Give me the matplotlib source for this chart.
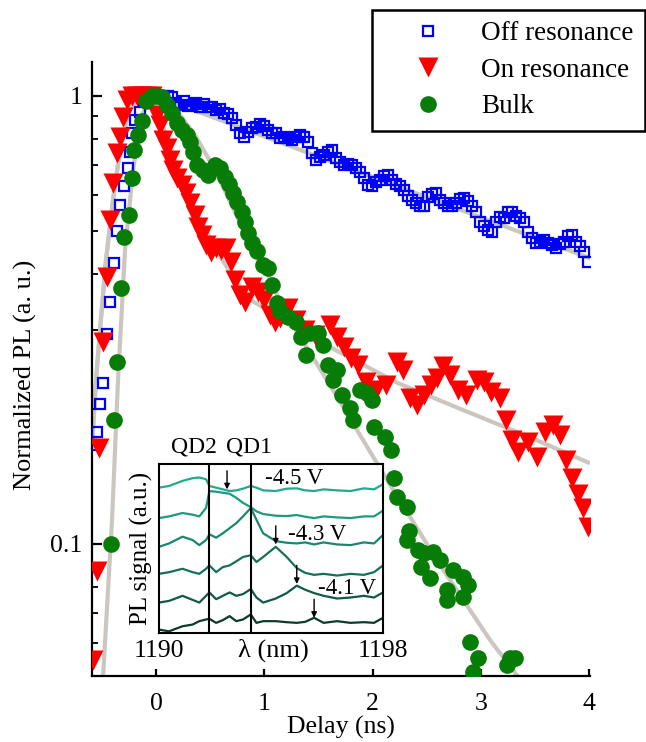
import matplotlib
matplotlib.use("Agg")
import matplotlib.pyplot as plt
from matplotlib.ticker import FixedLocator, FixedFormatter, LogLocator, NullFormatter

plt.rcParams['font.family'] = ['Liberation Serif', 'DejaVu Serif']

# ---------------- main data (delay in ns, normalized PL) ----------------
off_t = [-0.591, -0.545, -0.517, -0.489, -0.452, -0.425, -0.388, -0.360, -0.332, -0.295,
         -0.259, -0.240, -0.222, -0.194,
         -0.148, -0.111, -0.074, -0.037, 0.000, 0.037, 0.074, 0.111, 0.148, 0.185,
         0.222, 0.259, 0.295, 0.332, 0.369, 0.406, 0.443, 0.480, 0.517, 0.554,
         0.591, 0.628, 0.665, 0.702, 0.739, 0.776, 0.813, 0.849, 0.886, 0.923,
         0.960, 0.997, 1.034, 1.071, 1.108, 1.145, 1.182, 1.219, 1.256, 1.293,
         1.330, 1.367, 1.404, 1.440, 1.477, 1.514, 1.551, 1.588, 1.625, 1.662,
         1.699, 1.736, 1.773, 1.810, 1.847, 1.884, 1.921, 1.958, 1.994, 2.031,
         2.068, 2.105, 2.142, 2.179, 2.216, 2.253, 2.290, 2.327, 2.364, 2.401,
         2.438, 2.475, 2.512, 2.548, 2.585, 2.622, 2.659, 2.696, 2.733, 2.770,
         2.807, 2.844, 2.881, 2.918, 2.955, 2.992, 3.029, 3.066, 3.102, 3.139,
         3.176, 3.213, 3.250, 3.287, 3.324, 3.361, 3.398, 3.435, 3.472, 3.509,
         3.546, 3.583, 3.620, 3.657, 3.693, 3.730, 3.767, 3.804, 3.841, 3.878,
         3.915, 3.952, 3.989]
off_pl = [0.166, 0.178, 0.205, 0.229, 0.294, 0.347, 0.424, 0.500, 0.571, 0.630,
          0.691, 0.750, 0.827, 0.884,
          0.921, 0.980, 0.995, 1.000, 1.000, 0.990, 1.000, 1.000, 0.995, 0.965,
          0.955, 0.975, 0.950, 0.955, 0.965, 0.945, 0.960, 0.945, 0.945, 0.930,
          0.935, 0.916, 0.912, 0.893, 0.862, 0.827, 0.810, 0.831, 0.848, 0.853,
          0.866, 0.857, 0.839, 0.827, 0.827, 0.806, 0.810, 0.806, 0.798, 0.810,
          0.818, 0.810, 0.790, 0.746, 0.720, 0.731, 0.738, 0.750, 0.758, 0.727,
          0.712, 0.701, 0.705, 0.701, 0.691, 0.677, 0.656, 0.633, 0.630, 0.642,
          0.649, 0.663, 0.666, 0.649, 0.636, 0.630, 0.617, 0.598, 0.586, 0.577,
          0.568, 0.568, 0.595, 0.604, 0.607, 0.586, 0.577, 0.568, 0.568, 0.577,
          0.589, 0.592, 0.583, 0.568, 0.551, 0.523, 0.513, 0.502, 0.497, 0.523,
          0.537, 0.534, 0.551, 0.551, 0.540, 0.534, 0.523, 0.497, 0.482, 0.470,
          0.472, 0.477, 0.470, 0.465, 0.458, 0.467, 0.472, 0.487, 0.490, 0.472,
          0.463, 0.449, 0.426]

on_t = [-0.582, -0.545, -0.526, -0.489, -0.452, -0.425, -0.397, -0.360, -0.332, -0.305,
        -0.268, -0.222, -0.175, -0.129, -0.083, -0.037,
        0.009, 0.037, 0.065, 0.102, 0.129, 0.157, 0.194, 0.240, 0.277, 0.314,
        0.360, 0.388, 0.425, 0.462, 0.508, 0.554, 0.600, 0.646, 0.693, 0.729,
        0.776, 0.822, 0.886, 0.942, 0.997, 1.053, 1.099, 1.145, 1.219, 1.293,
        1.376, 1.468, 1.607, 1.671, 1.736, 1.801, 1.865, 1.939, 2.031, 2.124,
        2.225, 2.281, 2.345, 2.410, 2.475, 2.539, 2.595, 2.650, 2.715, 2.789,
        2.863, 2.964, 3.029, 3.093, 3.176, 3.232, 3.287, 3.343, 3.435, 3.518,
        3.592, 3.666, 3.730, 3.786, 3.841, 3.897, 3.943, 3.989]
on_pl = [0.055, 0.087, 0.164, 0.282, 0.394, 0.529, 0.639, 0.746, 0.810, 0.898,
         0.980, 1.000, 1.000, 1.000, 1.000, 1.000,
         0.907, 0.862, 0.798, 0.766, 0.720, 0.684, 0.656, 0.633, 0.607, 0.577,
         0.542, 0.510, 0.490, 0.465, 0.448, 0.458, 0.453, 0.458, 0.426, 0.388,
         0.360, 0.347, 0.375, 0.365, 0.350, 0.324, 0.313, 0.319, 0.336, 0.316,
         0.300, 0.293, 0.308, 0.290, 0.275, 0.260, 0.251, 0.230, 0.221, 0.226,
         0.255, 0.245, 0.212, 0.204, 0.215, 0.226, 0.235, 0.250, 0.238, 0.221,
         0.215, 0.232, 0.230, 0.218, 0.212, 0.189, 0.171, 0.160, 0.169, 0.156,
         0.178, 0.184, 0.175, 0.154, 0.140, 0.129, 0.120, 0.109]

bulk_t = [-0.416, -0.388, -0.360, -0.323, -0.295, -0.249, -0.222, -0.203, -0.166, -0.129,
          -0.092, -0.037, 0.009, 0.055, 0.102, 0.148, 0.194, 0.240, 0.286, 0.314,
          0.342, 0.379, 0.434, 0.480, 0.545, 0.591, 0.637, 0.674, 0.711, 0.748,
          0.794, 0.822, 0.849, 0.886, 0.933, 0.988, 1.034, 1.071, 1.117, 1.145,
          1.219, 1.293, 1.339, 1.385, 1.422, 1.496, 1.542, 1.588, 1.634, 1.671,
          1.717, 1.791, 1.819, 1.884, 1.948, 1.994, 2.013, 2.115, 2.170, 2.198,
          2.225, 2.318, 2.336, 2.318, 2.419, 2.475, 2.558, 2.622, 2.447, 2.530,
          2.687, 2.742, 2.835, 2.881, 2.835, 2.687, 2.899, 2.973, 2.927, 3.269,
          3.241, 3.315]
bulk_pl = [0.100, 0.189, 0.255, 0.373, 0.484, 0.542, 0.656, 0.758, 0.818, 0.879,
           0.975, 1.000, 1.000, 0.995, 0.955, 0.916, 0.870, 0.839, 0.818, 0.790,
           0.750, 0.701, 0.684, 0.666, 0.701, 0.691, 0.660, 0.636, 0.607, 0.580,
           0.551, 0.523, 0.495, 0.470, 0.451, 0.419, 0.413, 0.379, 0.345, 0.331,
           0.321, 0.313, 0.290, 0.264, 0.296, 0.296, 0.278, 0.251, 0.232, 0.245,
           0.215, 0.201, 0.189, 0.221, 0.217, 0.210, 0.182, 0.173, 0.162, 0.140,
           0.127, 0.121, 0.107, 0.102, 0.097, 0.0955, 0.096, 0.092, 0.0888, 0.0840,
           0.0789, 0.0875, 0.0844, 0.0810, 0.0762, 0.0750, 0.0604, 0.0556, 0.0518, 0.0556,
           0.0537, 0.0556]

# fitted curves
fit_off_t = [-0.591, -0.554, -0.517, -0.462, -0.397, -0.332, -0.259, -0.166, 0.0, 4.0]
fit_off_pl = [0.166, 0.232, 0.300, 0.430, 0.586, 0.758, 0.916, 0.995, 1.0, 0.435]
fit_on_t = [-0.591, -0.554, -0.517, -0.462, -0.397, -0.332, -0.259, -0.166, -0.055, 0.037,
            0.268, 0.572, 0.840, 1.302, 1.607, 2.225, 2.835, 3.453, 3.989]
fit_on_pl = [0.166, 0.232, 0.300, 0.430, 0.586, 0.758, 0.916, 0.995, 1.0, 0.893,
             0.617, 0.446, 0.354, 0.305, 0.275, 0.229, 0.199, 0.173, 0.152]
fit_bulk_t = [-0.489, -0.406, -0.351, -0.286, -0.212, -0.129, -0.055, 0.009, 0.175, 0.360,
              0.545, 0.794, 1.006, 1.163, 1.607, 2.133, 2.622, 3.084, 3.343]
fit_bulk_pl = [0.0505, 0.113, 0.232, 0.453, 0.684, 0.907, 0.990, 1.0, 0.940, 0.818,
               0.684, 0.510, 0.415, 0.338, 0.226, 0.139, 0.0897, 0.0610, 0.0505]

x_ticks = [0, 1, 2, 3, 4]
y_major = [0.1, 1]
y_major_labels = ['0.1', '1']
series_labels = ['Off resonance', 'On resonance', 'Bulk']

# ---------------- inset data (PL spectra) ----------------
lam = [1190.00, 1190.36, 1190.84, 1191.20, 1191.44, 1191.68, 1191.80, 1192.04, 1192.28, 1192.52,
       1192.76, 1193.00, 1193.28, 1193.48, 1193.72, 1194.17, 1194.56, 1194.92, 1195.22, 1195.54,
       1195.88, 1196.36, 1196.84, 1197.32, 1197.68, 1198.00]
spec_a = [4.30, 4.35, 4.50, 4.58, 4.60, 4.55, 4.35, 4.30, 4.25, 4.20, 4.22, 4.27, 4.35,
          4.30, 4.22, 4.20, 4.27, 4.28, 4.22, 4.20, 4.25, 4.22, 4.20, 4.28, 4.25, 4.40]
spec_b = [3.40, 3.45, 3.55, 3.50, 3.45, 3.70, 4.20, 4.18, 4.15, 4.12, 4.00, 3.85, 3.72,
          3.60, 3.52, 3.47, 3.46, 3.49, 3.44, 3.40, 3.45, 3.42, 3.40, 3.45, 3.45, 3.62]
spec_c = [2.55, 2.65, 2.85, 2.75, 2.60, 2.75, 2.92, 2.82, 2.95, 3.10, 3.25, 3.45, 3.70,
          3.35, 2.95, 2.72, 2.67, 2.65, 2.68, 2.62, 2.68, 2.62, 2.60, 2.68, 2.65, 2.90]
spec_d = [1.75, 1.80, 1.90, 1.80, 1.75, 1.90, 2.00, 1.80, 1.95, 2.00, 2.12, 2.25, 2.30,
          2.10, 2.25, 2.55, 2.25, 1.92, 1.78, 1.72, 1.75, 1.70, 1.75, 1.72, 1.80, 2.00]
spec_e = [0.90, 0.95, 1.10, 0.98, 0.90, 1.10, 1.20, 1.00, 1.10, 1.20, 1.10, 1.15, 1.30,
          1.05, 0.90, 1.02, 1.18, 1.40, 1.28, 1.18, 1.10, 1.02, 1.05, 1.10, 1.05, 1.20]
spec_f = [0.10, 0.05, 0.20, 0.25, 0.35, 0.40, 0.42, 0.30, 0.38, 0.50, 0.35, 0.40, 0.55,
          0.30, 0.35, 0.35, 0.32, 0.30, 0.33, 0.45, 0.30, 0.35, 0.30, 0.32, 0.30, 0.45]
qd_lines = [1191.78, 1193.28]
qd_labels = ['QD2', 'QD1']
qd_label_lam = [1191.26, 1193.21]
arrow_lam = [1192.43, 1194.17, 1194.92, 1195.54]
arrow_tip = [4.25, 2.62, 1.45, 0.45]
volt_labels = ['-4.5 V', '-4.3 V', '-4.1 V']
volt_lam = [1193.78, 1194.61, 1195.69]
volt_sig = [4.56, 2.90, 1.33]
inset_ticks = [1190, 1198]

# ---------------- figure ----------------
W, H = 646, 742
fig = plt.figure(figsize=(W / 100, H / 100), dpi=100)
ax = fig.add_axes([92 / W, 1 - 676 / H, 498 / W, 614 / H])

gray = '#cbc7c0'
for ft, fp in [(fit_off_t, fit_off_pl), (fit_on_t, fit_on_pl), (fit_bulk_t, fit_bulk_pl)]:
    ax.plot(ft, fp, color=gray, lw=3.0, zorder=1)

h1, = ax.plot(off_t, off_pl, ls='none', marker='s', ms=7, mfc='none', mec='#0000ff',
              mew=1.6, label=series_labels[0], zorder=3)
h2, = ax.plot(on_t, on_pl, ls='none', marker='v', ms=14.5, color='#ff0000', mec='none',
              label=series_labels[1], zorder=4)
h3, = ax.plot(bulk_t, bulk_pl, ls='none', marker='o', ms=12, color='#077c07', mec='none',
              label=series_labels[2], zorder=5)

ax.set_yscale('log')
ax.set_xlim(-0.591, 4.007)
ax.set_ylim(0.0507, 1.191)
for s in ['top', 'right']:
    ax.spines[s].set_visible(False)
for s in ['left', 'bottom']:
    ax.spines[s].set_linewidth(1.6)

ax.xaxis.set_major_locator(FixedLocator(x_ticks))
ax.tick_params(axis='x', direction='in', length=5, width=1.6, labelsize=18.5, pad=12)
ax.yaxis.set_major_locator(FixedLocator(y_major))
ax.yaxis.set_major_formatter(FixedFormatter(y_major_labels))
ax.yaxis.set_minor_locator(LogLocator(base=10, subs=(2, 3, 4, 5, 6, 7, 8, 9), numticks=10))
ax.yaxis.set_minor_formatter(NullFormatter())
ax.tick_params(axis='y', which='major', direction='in', length=7, width=1.6, labelsize=18.5, pad=7)
ax.tick_params(axis='y', which='minor', direction='in', length=4, width=1.3)

ax.set_xlabel('Delay (ns)', fontsize=18.5, va='center')
ax.xaxis.set_label_coords(0.5, (676 - 727) / 614)
ax.set_ylabel('Normalized PL (a. u.)', fontsize=19, va='center')
ax.yaxis.set_label_coords((25 - 92) / 498, 0.49)

leg = fig.legend(handles=[h1, h2, h3], loc='upper right', bbox_to_anchor=(645 / W, 1 - 10 / H),
                 frameon=True, fancybox=False, edgecolor='black', framealpha=1, fontsize=19.5,
                 borderpad=0.42, handlelength=3.3, handletextpad=0.3, labelspacing=0.42,
                 borderaxespad=0, numpoints=1)
leg.get_frame().set_linewidth(1.8)

# ---------------- inset ----------------
ins = fig.add_axes([159 / W, 1 - 633 / H, 224 / W, 169 / H])
ins.set_facecolor('white')
colors = ['#22aa8f', '#1d9a80', '#198770', '#15705b', '#115a47', '#0c3b2c']
for spec, col in zip([spec_a, spec_b, spec_c, spec_d, spec_e, spec_f], colors):
    ins.plot(lam, spec, color=col, lw=1.6)
for q in qd_lines:
    ins.axvline(q, color='black', lw=1.5)
for la, tip in zip(arrow_lam, arrow_tip):
    ins.annotate('', xy=(la, tip), xytext=(la, tip + 0.55),
                 arrowprops=dict(arrowstyle='-|>', color='black', lw=1.0,
                                 mutation_scale=8, shrinkA=0, shrinkB=0))
for txt, la, sg in zip(volt_labels, volt_lam, volt_sig):
    ins.text(la, sg, txt, ha='left', va='center', fontsize=16.5)
for txt, la in zip(qd_labels, qd_label_lam):
    ins.text(la, 5.5, txt, ha='center', va='center', fontsize=17)
ins.set_xlim(1190, 1198)
ins.set_ylim(0, 5)
ins.set_xticks(inset_ticks)
ins.set_xticklabels([str(t) for t in inset_ticks])
ins.tick_params(axis='x', length=0, labelsize=18.5, pad=5)
ins.set_yticks([])
for s in ins.spines.values():
    s.set_linewidth(1.5)
ins.set_ylabel('PL signal (a.u.)', fontsize=18, labelpad=4)
ins.text(0.509, -0.10, 'λ (nm)', transform=ins.transAxes, ha='center', va='center', fontsize=19)

fig.savefig('out.png', dpi=100)
